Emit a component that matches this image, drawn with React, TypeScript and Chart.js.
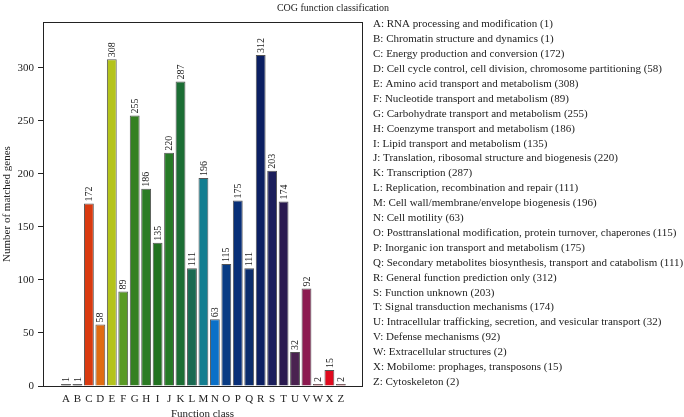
import React, { useEffect, useRef } from "react";
import { Chart, registerables } from "chart.js";

Chart.register(...registerables);

const categories = ["A", "B", "C", "D", "E", "F", "G", "H", "I", "J", "K", "L", "M", "N", "O", "P", "Q", "R", "S", "T", "U", "V", "W", "X", "Z"];
const counts = [1, 1, 172, 58, 308, 89, 255, 186, 135, 220, 287, 111, 196, 63, 115, 175, 111, 312, 203, 174, 32, 92, 2, 15, 2];
const descriptions = [
  "RNA processing and modification",
  "Chromatin structure and dynamics",
  "Energy production and conversion",
  "Cell cycle control, cell division, chromosome partitioning",
  "Amino acid transport and metabolism",
  "Nucleotide transport and metabolism",
  "Carbohydrate transport and metabolism",
  "Coenzyme transport and metabolism",
  "Lipid transport and metabolism",
  "Translation, ribosomal structure and biogenesis",
  "Transcription",
  "Replication, recombination and repair",
  "Cell wall/membrane/envelope biogenesis",
  "Cell motility",
  "Posttranslational modification, protein turnover, chaperones",
  "Inorganic ion transport and metabolism",
  "Secondary metabolites biosynthesis, transport and catabolism",
  "General function prediction only",
  "Function unknown",
  "Signal transduction mechanisms",
  "Intracellular trafficking, secretion, and vesicular transport",
  "Defense mechanisms",
  "Extracellular structures",
  "Mobilome: prophages, transposons",
  "Cytoskeleton",
];
const barColors = [
  "#1a1a1a", "#1a1a1a", "#d93a10", "#e06c12", "#b4c31c", "#5a9a25", "#358022", "#2c7c24",
  "#217220", "#267a26", "#1c6e34", "#1a6a52", "#137e90", "#0a70c8", "#093c84", "#082f78",
  "#0a2c6c", "#0b1f62", "#1c1f5c", "#2a1a50", "#4a2250", "#8c1a50", "#8a1022", "#e00a1e", "#8a1022",
];
const yTicks = [0, 50, 100, 150, 200, 250, 300];

const titleText = "COG function classification";
const xTitle = "Function class";
const yTitle = "Number of matched genes";
const FONT = "'Liberation Serif', 'DejaVu Serif', serif";

export default function App() {
  const ref = useRef<HTMLCanvasElement | null>(null);

  useEffect(() => {
    document.body.style.margin = "0";
    const canvas = ref.current;
    if (!canvas) return;

    const decorPlugin = {
      id: "decor",
      afterDatasetsDraw(chart: any) {
        const ctx = chart.ctx;
        const meta = chart.getDatasetMeta(0);
        ctx.save();
        ctx.fillStyle = "#222";
        ctx.font = `10px ${FONT}`;
        ctx.textAlign = "left";
        ctx.textBaseline = "middle";
        meta.data.forEach((bar: any, i: number) => {
          ctx.save();
          ctx.translate(bar.x, bar.y - 2);
          ctx.rotate(-Math.PI / 2);
          ctx.fillText(String(counts[i]), 0, 0.5);
          ctx.restore();
        });
        ctx.restore();
      },
      afterDraw(chart: any) {
        const ctx = chart.ctx;
        const a = chart.chartArea;
        ctx.save();
        ctx.strokeStyle = "#222";
        ctx.lineWidth = 1;
        ctx.strokeRect(Math.round(a.left) + 0.5, Math.round(a.top) + 0.5, Math.round(a.right - a.left), Math.round(a.bottom - a.top));
        ctx.fillStyle = "#222";
        ctx.font = `10px ${FONT}`;
        ctx.textAlign = "center";
        ctx.textBaseline = "middle";
        ctx.fillText(titleText, 333, 8.5);
        ctx.textAlign = "left";
        ctx.font = `11px ${FONT}`;
        categories.forEach((c, i) => {
          ctx.fillText(`${c}: ${descriptions[i]} (${counts[i]})`, 373, 24.5 + i * 14.9);
        });
        ctx.restore();
      },
    };

    const chart = new Chart(canvas, {
      type: "bar",
      data: {
        datasets: [
          {
            data: counts.map((v, i) => ({ x: i, y: v })),
            backgroundColor: barColors,
            borderColor: "#555",
            borderWidth: 1,
            minBarLength: 2,
            categoryPercentage: 1,
            barPercentage: 0.86,
          },
        ],
      },
      options: {
        responsive: false,
        animation: false,
        devicePixelRatio: 1,
        layout: { padding: { left: 0, top: 22, right: 322, bottom: 0 } },
        plugins: {
          legend: { display: false },
          tooltip: { enabled: false },
          title: { display: false },
        },
        scales: {
          x: {
            type: "linear",
            min: -1.45,
            max: 25.29,
            afterBuildTicks: (axis: any) => {
              axis.ticks = categories.map((_, i) => ({ value: i }));
            },
            afterFit: (scale: any) => {
              scale.height = 31;
            },
            grid: { display: false, drawTicks: false },
            border: { display: false },
            ticks: {
              autoSkip: false,
              maxRotation: 0,
              padding: 7,
              color: "#222",
              font: { family: FONT, size: 11 },
              callback: (v: any) => categories[v] ?? "",
            },
            title: {
              display: true,
              text: xTitle,
              color: "#222",
              font: { family: FONT, size: 11, lineHeight: 1 },
              padding: { top: -3, bottom: -3 },
            },
          },
          y: {
            type: "linear",
            min: 0,
            max: 343.2,
            afterBuildTicks: (axis: any) => {
              axis.ticks = yTicks.map((v) => ({ value: v }));
            },
            afterFit: (scale: any) => {
              scale.width = 43;
            },
            grid: { display: true, drawOnChartArea: false, drawTicks: true, tickLength: 5, color: "#222" },
            border: { display: false },
            ticks: {
              padding: 4,
              color: "#222",
              font: { family: FONT, size: 11 },
            },
            title: {
              display: true,
              text: yTitle,
              color: "#222",
              font: { family: FONT, size: 11 },
              padding: { top: 1, bottom: 0 },
            },
          },
        },
      },
      plugins: [decorPlugin],
    } as any);

    return () => chart.destroy();
  }, []);

  return (
    <div style={{ width: 684, height: 417, background: "#fff" }}>
      <canvas ref={ref} width={684} height={417} style={{ display: "block" }} />
    </div>
  );
}
